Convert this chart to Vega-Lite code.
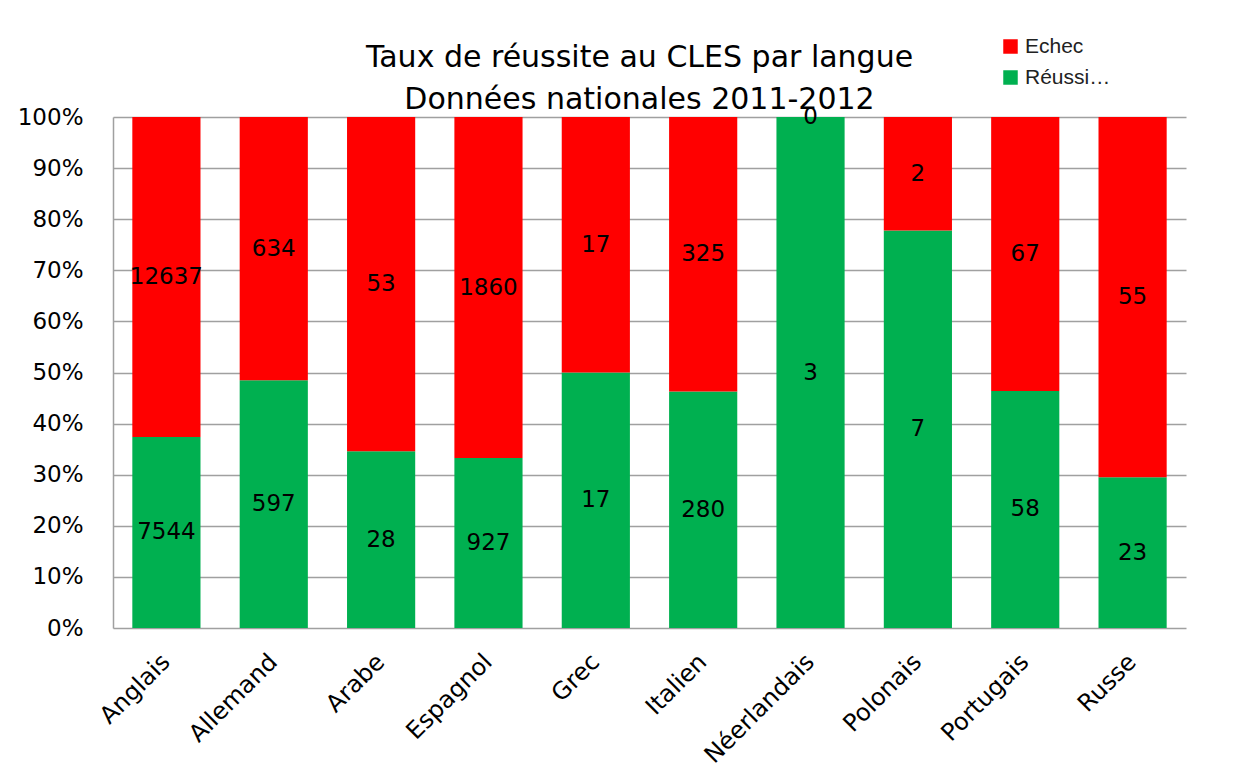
{
  "$schema": "https://vega.github.io/schema/vega-lite/v6.json",
  "autosize": {"type": "none"},
  "width": 1073,
  "height": 511,
  "padding": {"left": 113, "top": 117, "right": 61, "bottom": 151},
  "background": "white",
  "config": {
    "font": "DejaVu Sans",
    "view": {"stroke": null}
  },
  "title": {
    "text": ["Taux de réussite au CLES par langue", "Données nationales 2011-2012"],
    "anchor": "middle",
    "frame": "group",
    "fontSize": 30,
    "fontWeight": "normal",
    "color": "black",
    "lineHeight": 42,
    "offset": 6,
    "dx": -10,
    "dy": 85
  },
  "data": {
    "values": [
      {"langue": "Anglais", "statut": "Réussi", "n": 7544},
      {"langue": "Anglais", "statut": "Echec", "n": 12637},
      {"langue": "Allemand", "statut": "Réussi", "n": 597},
      {"langue": "Allemand", "statut": "Echec", "n": 634},
      {"langue": "Arabe", "statut": "Réussi", "n": 28},
      {"langue": "Arabe", "statut": "Echec", "n": 53},
      {"langue": "Espagnol", "statut": "Réussi", "n": 927},
      {"langue": "Espagnol", "statut": "Echec", "n": 1860},
      {"langue": "Grec", "statut": "Réussi", "n": 17},
      {"langue": "Grec", "statut": "Echec", "n": 17},
      {"langue": "Italien", "statut": "Réussi", "n": 280},
      {"langue": "Italien", "statut": "Echec", "n": 325},
      {"langue": "Néerlandais", "statut": "Réussi", "n": 3},
      {"langue": "Néerlandais", "statut": "Echec", "n": 0},
      {"langue": "Polonais", "statut": "Réussi", "n": 7},
      {"langue": "Polonais", "statut": "Echec", "n": 2},
      {"langue": "Portugais", "statut": "Réussi", "n": 58},
      {"langue": "Portugais", "statut": "Echec", "n": 67},
      {"langue": "Russe", "statut": "Réussi", "n": 23},
      {"langue": "Russe", "statut": "Echec", "n": 55}
    ]
  },
  "transform": [
    {
      "stack": "n",
      "groupby": ["langue"],
      "sort": [{"field": "statut", "order": "descending"}],
      "offset": "normalize",
      "as": ["v0", "v1"]
    }
  ],
  "encoding": {
    "x": {
      "field": "langue",
      "type": "nominal",
      "sort": null,
      "scale": {"paddingInner": 0.365, "paddingOuter": 0.18},
      "axis": {
        "title": null,
        "labelAngle": -45,
        "labelAlign": "right",
        "labelBaseline": "middle",
        "labelFontSize": 24,
        "labelColor": "black",
        "labelPadding": 30,
        "ticks": false,
        "domain": false
      }
    }
  },
  "layer": [
    {
      "mark": {"type": "bar"},
      "encoding": {
        "y": {
          "field": "v0",
          "type": "quantitative",
          "scale": {"domain": [0, 1], "nice": false},
          "axis": {
            "title": null,
            "format": ".0%",
            "values": [0, 0.1, 0.2, 0.3, 0.4, 0.5, 0.6, 0.7, 0.8, 0.9, 1],
            "labelFontSize": 23,
            "labelColor": "black",
            "labelPadding": 30,
            "ticks": false,
            "domainColor": "#a0a0a0",
            "domainWidth": 1.5,
            "gridColor": "#a0a0a0",
            "gridWidth": 1.5,
            "gridOpacity": 1
          }
        },
        "y2": {"field": "v1"},
        "color": {
          "field": "statut",
          "type": "nominal",
          "scale": {"domain": ["Echec", "Réussi"], "range": ["#FF0000", "#00B050"]},
          "legend": {
            "title": null,
            "orient": "none",
            "legendX": 887,
            "legendY": -81,
            "symbolType": "square",
            "symbolSize": 210,
            "symbolStrokeWidth": 0,
            "labelFontSize": 21,
            "labelFont": "Liberation Sans",
            "labelColor": "#222222",
            "rowPadding": 9,
            "labelExpr": "datum.label == 'Réussi' ? 'Réussi…' : datum.label"
          }
        }
      }
    },
    {
      "transform": [
        {"fold": ["v0", "v1"], "as": ["bord", "pos"]},
        {"aggregate": [{"op": "mean", "field": "pos", "as": "milieu"}], "groupby": ["langue", "statut", "n"]}
      ],
      "mark": {"type": "text", "fontSize": 23, "color": "black", "baseline": "middle"},
      "encoding": {
        "y": {"field": "milieu", "type": "quantitative"},
        "text": {"field": "n", "type": "quantitative"}
      }
    }
  ]
}
